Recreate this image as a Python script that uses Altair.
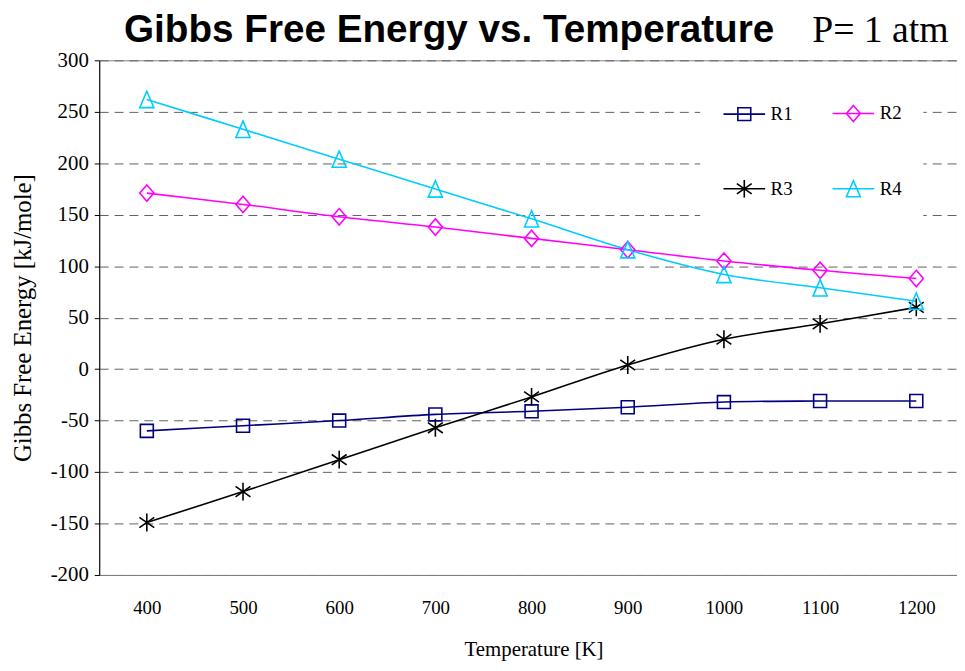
import altair as alt
import pandas as pd

# ---- data ----
temps = [400, 500, 600, 700, 800, 900, 1000, 1100, 1200]
series_names = ["R1", "R2", "R3", "R4"]
r1 = [-60, -55, -50, -44, -41, -37, -32, -31, -31]
r2 = [171, 160, 148, 138, 127, 116, 105, 96, 88]
r3 = [-149, -119, -88, -57, -27, 4, 29, 44, 60]
r4 = [262, 233, 204, 175, 146, 116, 92, 79, 66]
y_ticks = [-200, -150, -100, -50, 0, 50, 100, 150, 200, 250, 300]
colors = ["#000080", "#FF00FF", "#000000", "#00CCFF"]

title_text = ["Gibbs Free Energy vs. Temperature"]
pressure_text = ["P= 1 atm"]
x_title = "Temperature [K]"
y_title = "Gibbs Free Energy [kJ/mole]"

# marker shapes (unit paths)
marker_paths = [
    "M-0.87,-0.87H0.87V0.87H-0.87Z",
    "M0,-1.1L0.95,0L0,1.1L-0.95,0Z",
    "M0,-1.2V1.2M-1,-0.7L1,0.7M-1,0.7L1,-0.7",
    "M0,-1.1L0.95,1.1H-0.95Z",
]
legend_paths = [
    "M-3.23,0H3.23M-1,-1H1V1H-1Z",
    "M-3.23,0H3.23M0,-1.25L1.08,0L0,1.25L-1.08,0Z",
    "M-3.23,0H3.23M0,-1.35V1.35M-1.15,-0.8L1.15,0.8M-1.15,0.8L1.15,-0.8",
    "M-3.23,0H3.23M0,-1.25L1.08,1.25H-1.08Z",
]

rows = []
for name, vals in zip(series_names, [r1, r2, r3, r4]):
    for t, v in zip(temps, vals):
        rows.append({"T": t, "series": name, "G": v})
df = pd.DataFrame(rows)

SERIF = "Liberation Serif, Times New Roman, serif"
SANS = "Liberation Sans, Arial, sans-serif"

x_enc = alt.X(
    "T:O",
    scale=alt.Scale(type="point", padding=0.459, align=0.539),
    axis=alt.Axis(
        title=x_title,
        labelAngle=0,
        ticks=False,
        tickSize=0,
        labelPadding=24,
        labelFontSize=19,
        labelFont=SERIF,
        domainColor="#808080",
        titleFont=SERIF,
        titleFontSize=21,
        titleBaseline="alphabetic",
        titleY=81,
        titleX=438,
        grid=False,
    ),
)
y_enc = alt.Y(
    "G:Q",
    scale=alt.Scale(domain=[-200, 300], nice=False, zero=False),
    axis=alt.Axis(
        title=y_title,
        values=y_ticks,
        labelExpr="'' + datum.value",
        labelFont=SERIF,
        labelFontSize=21,
        labelPadding=6,
        tickSize=5,
        tickColor="black",
        domainColor="black",
        grid=True,
        gridColor="#606060",
        gridDash=[9, 6],
        gridWidth=1,
        titleFont=SERIF,
        titleFontSize=25,
        titleBaseline="alphabetic",
        titleX=-69,
    ),
)

color_scale = alt.Scale(domain=series_names, range=colors)

base = alt.Chart(df)

lines = base.mark_line(interpolate="catmull-rom", strokeWidth=1.6).encode(
    x=x_enc,
    y=y_enc,
    color=alt.Color("series:N", scale=color_scale, legend=None),
)

points = base.mark_point(filled=False, strokeWidth=1.6, size=225, opacity=1).encode(
    x=x_enc,
    y=y_enc,
    color=alt.Color("series:N", scale=color_scale, legend=None),
    shape=alt.Shape(
        "series:N",
        scale=alt.Scale(domain=series_names, range=marker_paths),
        legend=None,
    ),
)

leg = alt.Legend(
    title=None,
    orient="none",
    legendX=606,
    legendY=23,
    direction="horizontal",
    columns=2,
    fillColor="white",
    padding=21,
    labelFont=SERIF,
    labelFontSize=19,
    labelColor="black",
    symbolOffset=14,
    labelOffset=17,
    symbolSize=169,
    symbolStrokeWidth=1.6,
    symbolOpacity=1,
    symbolFillColor="transparent",
    rowPadding=52,
    columnPadding=36,
)

legend_layer = (
    base.transform_filter("false")
    .mark_point(filled=False, strokeWidth=1.6, opacity=1)
    .encode(
        stroke=alt.Stroke("series:N", scale=alt.Scale(domain=series_names, range=colors), legend=leg),
        shape=alt.Shape("series:N", scale=alt.Scale(domain=series_names, range=legend_paths), legend=leg),
    )
)

title_mark = (
    alt.Chart(pd.DataFrame({"t": title_text}))
    .mark_text(font=SANS, fontSize=39, fontWeight="bold", align="left", baseline="alphabetic", color="black")
    .encode(text="t:N", x=alt.value(25), y=alt.value(-18))
)

pressure = (
    alt.Chart(pd.DataFrame({"t": pressure_text}))
    .mark_text(font=SERIF, fontSize=38, align="left", baseline="alphabetic", color="black")
    .encode(text="t:N", x=alt.value(719), y=alt.value(-18))
)

chart = (
    alt.layer(lines, points, legend_layer, title_mark, pressure)
    .resolve_scale(shape="independent", stroke="independent")
    .properties(
        width=865,
        height=519,
        autosize=alt.AutoSizeParams(type="none"),
        padding={"left": 92, "top": 50, "right": 0, "bottom": 86},
    )
    .configure_view(stroke="#808080", strokeWidth=1)
    .configure_axis(
        labelFont=SERIF,
        titleFont=SERIF,
        labelColor="black",
        titleColor="black",
        titleFontWeight="normal",
    )
)

chart.save("out.html", embed_options={"renderer": "svg", "actions": False})
